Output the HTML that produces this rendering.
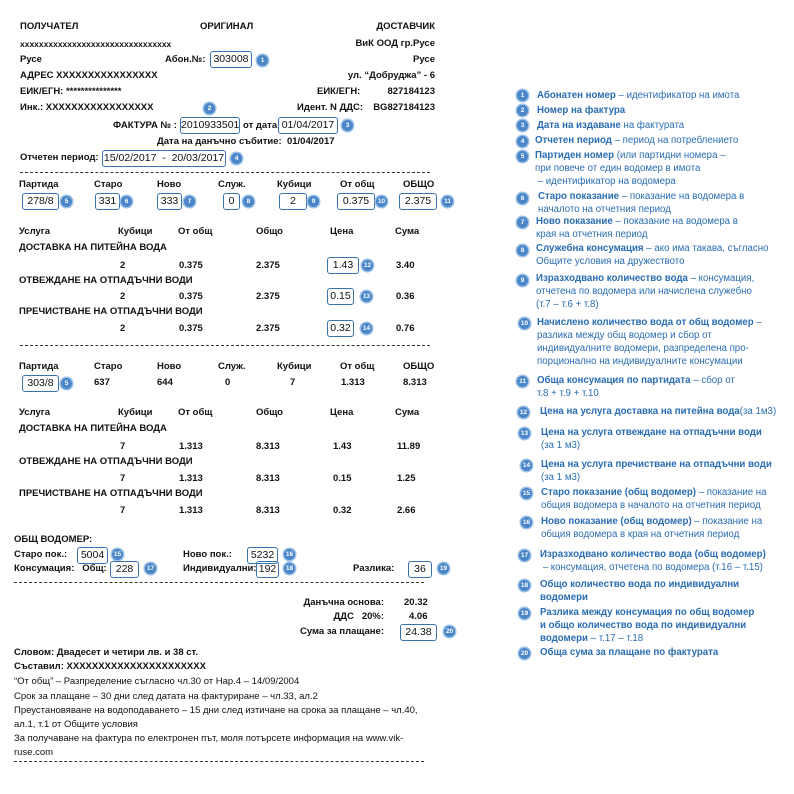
<!DOCTYPE html>
<html><head><meta charset="utf-8"><style>
body{margin:0;width:794px;height:794px;background:#fff;position:relative;overflow:hidden;font-family:"Liberation Sans","DejaVu Sans",sans-serif;}
.t{position:absolute;font-size:9.5px;font-weight:bold;line-height:12px;white-space:nowrap;color:#111;}
.n{font-weight:normal;}
.r{text-align:right;}
.bx{position:absolute;border:1.3px solid #3b72b0;border-radius:3px;height:15px;line-height:15px;font-size:10.5px;text-align:center;font-family:"Liberation Sans",sans-serif;color:#111;white-space:nowrap;overflow:hidden;}
.b{position:absolute;width:11px;height:11px;border-radius:50%;background:#4a86c8;color:#fff;font-size:6.5px;font-weight:bold;line-height:11px;text-align:center;box-shadow:0 0 0 1.5px #9cc0e6;}
.d{position:absolute;height:0;border-top:1px dashed #333;}
.bl{position:absolute;font-size:9.7px;line-height:13px;color:#2a6db3;white-space:nowrap;}
.bl b{font-weight:bold;}
</style></head><body>
<div class="t" style="left:20px;top:21px">ПОЛУЧАТЕЛ</div>
<div class="t" style="left:200px;top:21px">ОРИГИНАЛ</div>
<div class="t r" style="right:359px;top:21px">ДОСТАВЧИК</div>
<div class="t" style="left:20px;top:38px;font-size:8.5px">xxxxxxxxxxxxxxxxxxxxxxxxxxxxxxxx</div>
<div class="t r" style="right:359px;top:38px">ВиК ООД гр.Русе</div>
<div class="t" style="left:20px;top:54px">Русе</div>
<div class="t" style="left:165px;top:54px">Абон.№:</div>
<div class="bx" style="left:210px;top:51px;width:40px">303008</div><div class="b" style="left:257px;top:55px">1</div>
<div class="t r" style="right:359px;top:54px">Русе</div>
<div class="t" style="left:20px;top:70px">АДРЕС XXXXXXXXXXXXXXXX</div>
<div class="t r" style="right:359px;top:70px">ул. “Добруджа” - 6</div>
<div class="t" style="left:20px;top:86px">ЕИК/ЕГН: ***************</div>
<div class="t" style="left:317px;top:86px">ЕИК/ЕГН:</div>
<div class="t r" style="right:359px;top:86px">827184123</div>
<div class="t" style="left:20px;top:102px">Инк.: XXXXXXXXXXXXXXXXX</div>
<div class="b" style="left:204px;top:103px">2</div>
<div class="t" style="left:297px;top:102px">Идент. N ДДС:</div>
<div class="t r" style="right:359px;top:102px">BG827184123</div>
<div class="t" style="left:113px;top:120px">ФАКТУРА № :</div>
<div class="bx" style="left:180px;top:117px;width:58px">2010933501</div>
<div class="t" style="left:243px;top:120px">от дата</div>
<div class="bx" style="left:278px;top:117px;width:58px">01/04/2017</div><div class="b" style="left:342px;top:120px">3</div>
<div class="t" style="left:157px;top:136px">Дата на данъчно събитие:&nbsp; 01/04/2017</div>
<div class="t" style="left:20px;top:152px">Отчетен период:</div>
<div class="bx" style="left:102px;top:150px;width:122px">15/02/2017&nbsp; -&nbsp; 20/03/2017</div><div class="b" style="left:231px;top:153px">4</div>
<div class="d" style="left:20px;top:172px;width:410px"></div>

<div class="t" style="left:19px;top:179px">Партида</div><div class="t" style="left:94px;top:179px">Старо</div><div class="t" style="left:157px;top:179px">Ново</div><div class="t" style="left:218px;top:179px">Служ.</div><div class="t" style="left:277px;top:179px">Кубици</div><div class="t" style="left:340px;top:179px">От общ</div><div class="t" style="left:403px;top:179px">ОБЩО</div>
<div class="bx" style="left:22px;top:193px;width:35px">278/8</div><div class="b" style="left:61px;top:196px">5</div>
<div class="bx" style="left:95px;top:193px;width:23px">331</div><div class="b" style="left:121px;top:196px">6</div>
<div class="bx" style="left:157px;top:193px;width:23px">333</div><div class="b" style="left:184px;top:196px">7</div>
<div class="bx" style="left:223px;top:193px;width:15px">0</div><div class="b" style="left:243px;top:196px">8</div>
<div class="bx" style="left:279px;top:193px;width:26px">2</div><div class="b" style="left:308px;top:196px">9</div>
<div class="bx" style="left:337px;top:193px;width:36px">0.375</div><div class="b" style="left:376px;top:196px">10</div>
<div class="bx" style="left:399px;top:193px;width:36px">2.375</div><div class="b" style="left:442px;top:196px">11</div>

<div class="t" style="left:19px;top:226px">Услуга</div><div class="t" style="left:118px;top:226px">Кубици</div><div class="t" style="left:178px;top:226px">От общ</div><div class="t" style="left:256px;top:226px">Общо</div><div class="t" style="left:330px;top:226px">Цена</div><div class="t" style="left:395px;top:226px">Сума</div>
<div class="t" style="left:19px;top:242px">ДОСТАВКА НА ПИТЕЙНА ВОДА</div>
<div class="t" style="left:120px;top:260px">2</div><div class="t" style="left:179px;top:260px">0.375</div><div class="t" style="left:256px;top:260px">2.375</div>
<div class="bx" style="left:327px;top:257px;width:30px">1.43</div><div class="b" style="left:362px;top:260px">12</div><div class="t" style="left:396px;top:260px">3.40</div>
<div class="t" style="left:19px;top:275px">ОТВЕЖДАНЕ НА ОТПАДЪЧНИ ВОДИ</div>
<div class="t" style="left:120px;top:291px">2</div><div class="t" style="left:179px;top:291px">0.375</div><div class="t" style="left:256px;top:291px">2.375</div>
<div class="bx" style="left:327px;top:288px;width:25px">0.15</div><div class="b" style="left:361px;top:291px">13</div><div class="t" style="left:396px;top:291px">0.36</div>
<div class="t" style="left:19px;top:306px">ПРЕЧИСТВАНЕ НА ОТПАДЪЧНИ ВОДИ</div>
<div class="t" style="left:120px;top:323px">2</div><div class="t" style="left:179px;top:323px">0.375</div><div class="t" style="left:256px;top:323px">2.375</div>
<div class="bx" style="left:327px;top:320px;width:25px">0.32</div><div class="b" style="left:361px;top:323px">14</div><div class="t" style="left:396px;top:323px">0.76</div>
<div class="d" style="left:20px;top:345px;width:410px"></div>

<div class="t" style="left:19px;top:361px">Партида</div><div class="t" style="left:94px;top:361px">Старо</div><div class="t" style="left:157px;top:361px">Ново</div><div class="t" style="left:218px;top:361px">Служ.</div><div class="t" style="left:277px;top:361px">Кубици</div><div class="t" style="left:340px;top:361px">От общ</div><div class="t" style="left:403px;top:361px">ОБЩО</div>
<div class="bx" style="left:22px;top:375px;width:35px">303/8</div><div class="b" style="left:61px;top:378px">5</div>
<div class="t" style="left:94px;top:377px">637</div><div class="t" style="left:157px;top:377px">644</div><div class="t" style="left:225px;top:377px">0</div><div class="t" style="left:290px;top:377px">7</div><div class="t" style="left:341px;top:377px">1.313</div><div class="t" style="left:403px;top:377px">8.313</div>
<div class="t" style="left:19px;top:407px">Услуга</div><div class="t" style="left:118px;top:407px">Кубици</div><div class="t" style="left:178px;top:407px">От общ</div><div class="t" style="left:256px;top:407px">Общо</div><div class="t" style="left:330px;top:407px">Цена</div><div class="t" style="left:395px;top:407px">Сума</div>
<div class="t" style="left:19px;top:423px">ДОСТАВКА НА ПИТЕЙНА ВОДА</div>
<div class="t" style="left:120px;top:441px">7</div><div class="t" style="left:179px;top:441px">1.313</div><div class="t" style="left:256px;top:441px">8.313</div><div class="t" style="left:333px;top:441px">1.43</div><div class="t" style="left:397px;top:441px">11.89</div>
<div class="t" style="left:19px;top:456px">ОТВЕЖДАНЕ НА ОТПАДЪЧНИ ВОДИ</div>
<div class="t" style="left:120px;top:473px">7</div><div class="t" style="left:179px;top:473px">1.313</div><div class="t" style="left:256px;top:473px">8.313</div><div class="t" style="left:333px;top:473px">0.15</div><div class="t" style="left:397px;top:473px">1.25</div>
<div class="t" style="left:19px;top:488px">ПРЕЧИСТВАНЕ НА ОТПАДЪЧНИ ВОДИ</div>
<div class="t" style="left:120px;top:505px">7</div><div class="t" style="left:179px;top:505px">1.313</div><div class="t" style="left:256px;top:505px">8.313</div><div class="t" style="left:333px;top:505px">0.32</div><div class="t" style="left:397px;top:505px">2.66</div>

<div class="t" style="left:14px;top:534px">ОБЩ ВОДОМЕР:</div>
<div class="t" style="left:14px;top:549px">Старо пок.:</div>
<div class="bx" style="left:77px;top:547px;width:29px">5004</div><div class="b" style="left:112px;top:549px">15</div>
<div class="t" style="left:183px;top:549px">Ново пок.:</div>
<div class="bx" style="left:247px;top:547px;width:29px">5232</div><div class="b" style="left:284px;top:549px">16</div>
<div class="t" style="left:14px;top:563px">Консумация:&nbsp;&nbsp; Общ:</div>
<div class="bx" style="left:110px;top:561px;width:27px">228</div><div class="b" style="left:145px;top:563px">17</div>
<div class="t" style="left:183px;top:563px">Индивидуални:</div>
<div class="bx" style="left:256px;top:561px;width:21px">192</div><div class="b" style="left:284px;top:563px">18</div>
<div class="t" style="left:353px;top:563px">Разлика:</div>
<div class="bx" style="left:408px;top:561px;width:22px">36</div><div class="b" style="left:438px;top:563px">19</div>
<div class="d" style="left:14px;top:582px;width:410px"></div>

<div class="t r" style="right:410px;top:597px">Данъчна основа:</div><div class="t" style="left:404px;top:597px">20.32</div>
<div class="t r" style="right:410px;top:611px">ДДС&nbsp;&nbsp; 20%:</div><div class="t" style="left:409px;top:611px">4.06</div>
<div class="t r" style="right:410px;top:626px">Сума за плащане:</div>
<div class="bx" style="left:400px;top:624px;width:35px">24.38</div><div class="b" style="left:444px;top:626px">20</div>

<div class="t" style="left:14px;top:647px">Словом: Двадесет и четири лв. и 38 ст.</div>
<div class="t" style="left:14px;top:661px">Съставил: XXXXXXXXXXXXXXXXXXXXXX</div>
<div class="t n" style="left:14px;top:676px">“От общ” – Разпределение съгласно чл.30 от Нар.4 – 14/09/2004</div>
<div class="t n" style="left:14px;top:691px">Срок за плащане – 30 дни след датата на фактуриране – чл.33, ал.2</div>
<div class="t n" style="left:14px;top:705px">Преустановяване на водоподаването – 15 дни след изтичане на срока за плащане – чл.40,</div>
<div class="t n" style="left:14px;top:719px">ал.1, т.1 от Общите условия</div>
<div class="t n" style="left:14px;top:733px">За получаване на фактура по електронен път, моля потърсете информация на www.vik-</div>
<div class="t n" style="left:14px;top:747px">ruse.com</div>
<div class="d" style="left:14px;top:761px;width:410px"></div>

<div class="b" style="left:517px;top:90px">1</div><div class="bl" style="left:537px;top:89px"><b>Абонатен номер</b> – идентификатор на имота</div>
<div class="b" style="left:517px;top:105px">2</div><div class="bl" style="left:537px;top:104px"><b>Номер на фактура</b></div>
<div class="b" style="left:517px;top:120px">3</div><div class="bl" style="left:537px;top:119px"><b>Дата на издаване</b> на фактурата</div>
<div class="b" style="left:517px;top:136px">4</div><div class="bl" style="left:535px;top:134px"><b>Отчетен период</b> – период на потреблението</div>
<div class="b" style="left:517px;top:151px">5</div><div class="bl" style="left:535px;top:149px"><b>Партиден номер</b> (или партидни номера –<br>при повече от един водомер в имота<br>&nbsp;– идентификатор на водомера</div>
<div class="b" style="left:517px;top:193px">6</div><div class="bl" style="left:538px;top:190px"><b>Старо показание</b> – показание на водомера в<br>началото на отчетния период</div>
<div class="b" style="left:517px;top:217px">7</div><div class="bl" style="left:536px;top:215px"><b>Ново показание</b> – показание на водомера в<br>края на отчетния период</div>
<div class="b" style="left:517px;top:245px">8</div><div class="bl" style="left:536px;top:242px"><b>Служебна консумация</b> – ако има такава, съгласно<br>Общите условия на дружеството</div>
<div class="b" style="left:517px;top:275px">9</div><div class="bl" style="left:536px;top:272px"><b>Изразходвано количество вода</b> – консумация,<br>отчетена по водомера или начислена служебно<br>(т.7 – т.6 + т.8)</div>
<div class="b" style="left:519px;top:318px">10</div><div class="bl" style="left:537px;top:316px"><b>Начислено количество вода от общ водомер</b> –<br>разлика между общ водомер и сбор от<br>индивидуалните водомери, разпределена про-<br>порционално на индивидуалните консумации</div>
<div class="b" style="left:517px;top:376px">11</div><div class="bl" style="left:537px;top:374px;font-weight:bold">Обща консумация по партидата <span style="font-weight:normal">– сбор от<br>т.8 + т.9 + т.10</span></div>
<div class="b" style="left:518px;top:407px">12</div><div class="bl" style="left:540px;top:405px"><b>Цена на услуга доставка на питейна вода</b>(за 1м3)</div>
<div class="b" style="left:519px;top:428px">13</div><div class="bl" style="left:541px;top:426px"><b>Цена на услуга отвеждане на отпадъчни води</b><br>(за 1 м3)</div>
<div class="b" style="left:521px;top:460px">14</div><div class="bl" style="left:541px;top:458px"><b>Цена на услуга пречистване на отпадъчни води</b><br>(за 1 м3)</div>
<div class="b" style="left:521px;top:488px">15</div><div class="bl" style="left:541px;top:486px"><b>Старо показание (общ водомер)</b> – показание на<br>общия водомера в началото на отчетния период</div>
<div class="b" style="left:521px;top:517px">16</div><div class="bl" style="left:541px;top:515px"><b>Ново показание (общ водомер)</b> – показание на<br>общия водомера в края на отчетния период</div>
<div class="b" style="left:519px;top:550px">17</div><div class="bl" style="left:540px;top:548px"><b>Изразходвано количество вода (общ водомер)</b><br>&nbsp;– консумация, отчетена по водомера (т.16 – т.15)</div>
<div class="b" style="left:519px;top:580px">18</div><div class="bl" style="left:540px;top:578px;font-weight:bold">Общо количество вода по индивидуални<br>водомери</div>
<div class="b" style="left:519px;top:608px">19</div><div class="bl" style="left:540px;top:606px;font-weight:bold">Разлика между консумация по общ водомер<br>и общо количество вода по индивидуални<br>водомери <span style="font-weight:normal">– т.17 – т.18</span></div>
<div class="b" style="left:519px;top:648px">20</div><div class="bl" style="left:540px;top:646px;font-weight:bold">Обща сума за плащане по фактурата</div>
</body></html>
